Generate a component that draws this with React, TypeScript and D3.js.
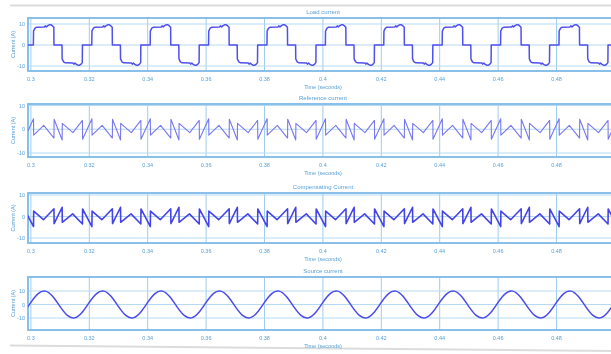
import React from 'react';
import * as d3 from 'd3';

// one 20 ms cycle of each waveform, [ms into cycle, amps]
const loadCycle: [number, number][] = [
  [0, 0], [0.85, 0], [0.9, 6.6], [1.4, 8.0], [2.0, 8.5], [4.6, 8.6], [4.9, 9.1], [5.3, 8.6],
  [5.8, 9.2], [6.3, 9.6], [6.9, 9.6], [7.4, 9.1], [7.85, 8.4], [7.9, 0], [10.65, 0], [10.7, -6.6],
  [11.2, -8.0], [11.8, -8.5], [14.4, -8.6], [14.7, -9.1], [15.1, -8.6], [15.6, -9.2], [16.1, -9.6],
  [16.7, -9.6], [17.2, -9.1], [17.6, -8.4], [17.65, 0],
];
const refCycle: [number, number][] = [
  [0, 2.0], [0.9, 4.4], [0.95, -2.5], [4.4, 1.6], [7.9, -3.7], [7.95, 4.2], [10.7, -4.5],
  [10.75, 2.5], [14.4, -1.4], [17.65, 3.7], [17.7, -4.2],
];
const compCycle: [number, number][] = [
  [0, -2.4], [0.9, -4.7], [0.95, 2.5], [4.3, -1.5], [7.9, 3.6], [7.95, -3.3], [10.7, 4.3],
  [10.75, -2.7], [14.3, 1.2], [17.65, -3.5], [17.7, 3.5],
];
const sourceCycle: [number, number][] = [
  [0, 1.6], [2.5, 8.1], [5, 9.9], [7.5, 5.9], [10, -1.6], [12.5, -8.1], [15, -9.9], [17.5, -5.9],
];

const cycleStarts = [0.28, 0.3, 0.32, 0.34, 0.36, 0.38, 0.4, 0.42, 0.44, 0.46, 0.48, 0.5];
const xTicks = [0.3, 0.32, 0.34, 0.36, 0.38, 0.4, 0.42, 0.44, 0.46, 0.48];
const yTicks = [10, 0, -10];
const titles = ['Load current', 'Reference current', 'Compensating Current', 'Source current'];

const W = 611;
const H = 354;
const FONT = 'Liberation Sans, Arial, sans-serif';
const TXT = '#5aa2d8';

const tile = (cycle: [number, number][]) =>
  cycleStarts.flatMap((c) => cycle.map(([ms, v]) => ({ t: c + ms / 1000, v })));

const panels = [
  { data: tile(loadCycle), top: 18, bottom: 71, y10: 24, yn10: 66, color: '#5050ec', sw: 1.5, curve: d3.curveLinear },
  { data: tile(refCycle), top: 104, bottom: 157, y10: 105.5, yn10: 153, color: '#7878ef', sw: 1.1, curve: d3.curveLinear },
  { data: tile(compCycle), top: 193, bottom: 243, y10: 195, yn10: 238, color: '#4444e8', sw: 1.6, curve: d3.curveLinear },
  { data: tile(sourceCycle), top: 277, bottom: 330, y10: 291, yn10: 318, color: '#4c4cea', sw: 1.5, curve: d3.curveNatural },
];

const x = d3.scaleLinear().domain([0.3, 0.32]).range([30.9, 89.3]);
const left = 28;
const right = 613;

function Panel({ p, i }: { p: any; i: number }) {
  const y = d3.scaleLinear().domain([-10, 10]).range([p.yn10, p.y10]);
  const line = d3
    .line<{ t: number; v: number }>()
    .x((d) => x(d.t))
    .y((d) => y(d.v))
    .curve(p.curve);
  const cid = `clip${i}`;
  const cy = (p.top + p.bottom) / 2;
  return (
    <g>
      <clipPath id={cid}>
        <rect x={left} y={p.top} width={right - left} height={p.bottom - p.top} />
      </clipPath>
      {xTicks.map((t) => (
        <line key={t} x1={x(t)} x2={x(t)} y1={p.top} y2={p.bottom} stroke="#9fcdee" strokeWidth={1} />
      ))}
      {yTicks.map((v) => (
        <line key={v} x1={left} x2={right} y1={y(v)} y2={y(v)} stroke="#b6daf3" strokeWidth={1} />
      ))}
      <rect x={left} y={p.top} width={right - left} height={p.bottom - p.top} fill="none" stroke="#7db9e6" strokeWidth={1.8} />
      <path d={line(p.data) || ''} fill="none" stroke={p.color} strokeWidth={p.sw} strokeLinejoin="round" clipPath={`url(#${cid})`} />
      {xTicks.map((t) => (
        <text key={t} x={x(t)} y={p.bottom + 10} fontSize={5.5} fill={TXT} textAnchor="middle" fontFamily={FONT}>
          {d3.format('~g')(t)}
        </text>
      ))}
      {yTicks.map((v) => (
        <text key={v} x={25} y={y(v) + 2} fontSize={5.5} fill={TXT} textAnchor="end" fontFamily={FONT}>
          {v}
        </text>
      ))}
      <text x={13} y={cy} fontSize={5.5} fill={TXT} textAnchor="middle" fontFamily={FONT} transform={`rotate(-90 13 ${cy})`} dy={2}>
        Current (A)
      </text>
      <text x={323} y={p.top - 4} fontSize={6} fill={TXT} textAnchor="middle" fontFamily={FONT}>
        {titles[i]}
      </text>
      <text x={323} y={p.bottom + 18} fontSize={5.5} fill={TXT} textAnchor="middle" fontFamily={FONT}>
        Time (seconds)
      </text>
    </g>
  );
}

export default function App() {
  return (
    <svg width={W} height={H} style={{ position: 'absolute', left: 0, top: 0, background: '#fff', filter: 'blur(0.3px)' }}>
      <line x1={10} x2={W} y1={5.5} y2={5.5} stroke="#dcdcdc" strokeWidth={2} />
      <line x1={10} x2={W} y1={345.5} y2={351} stroke="#dcdcdc" strokeWidth={2} />
      {panels.map((p, i) => (
        <Panel key={i} p={p} i={i} />
      ))}
    </svg>
  );
}
